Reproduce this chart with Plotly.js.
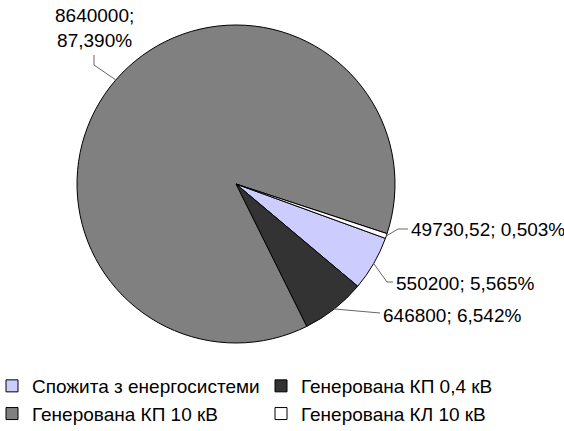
<!DOCTYPE html>
<html>
<head>
<meta charset="utf-8">
<script src="https://cdn.plot.ly/plotly-3.0.1.min.js"></script>
<style>html,body{margin:0;padding:0;background:#fff;}#chart{width:564px;height:431px;}</style>
</head>
<body>
<div id="chart"></div>
<script>
// ---- data ----
var categories = ["Спожита з енергосистеми", "Генерована КП 0,4 кВ", "Генерована КП 10 кВ", "Генерована КЛ 10 кВ"];
var values = [550200, 646800, 8640000, 49730.52];
var colors = ["#CCCCFF", "#333333", "#808080", "#FFFFFF"];

// ---- layout constants ----
var W = 564, H = 431, MB = 64;
var HP = H - MB; // plot area height (paper coords refer to it)
var cxPx = 236, cyPx = 184, rPx = 159;
var rotationDeg = 110;
var FONT = "Liberation Sans, Arial, sans-serif";
// label placement (pixel positions of label text, and elbow points of leader lines)
var labelPos = [
  {tx: 394, ty: 283, anchor: "left",   elbow: [[387, 282], [393, 282]]},
  {tx: 381, ty: 315, anchor: "left",   elbow: [[380, 313]]},
  {tx: 94,  ty: 28,  anchor: "center", elbow: [[94, 65], [94, 55]]},
  {tx: 409, ty: 229, anchor: "left",   elbow: [[398, 229], [408, 229]]}
];

function fmtNum(v) { return String(v).replace(".", ","); }
var total = values.reduce(function(a, b) { return a + b; }, 0);
var texts = values.map(function(v, i) {
  var pct = (v / total * 100).toFixed(3).replace(".", ",") + "%";
  return i === 2 ? fmtNum(v) + ";<br>" + pct : fmtNum(v) + "; " + pct;
});

function px2x(p) { return p / W; }
function py2y(p) { return 1 - p / HP; }

var annotations = [], shapes = [];
var ang = rotationDeg;
values.forEach(function(v, i) {
  var span = v / total * 360;
  var mid = (ang + span / 2) * Math.PI / 180;
  ang += span;
  var ex = cxPx + rPx * Math.sin(mid), ey = cyPx - rPx * Math.cos(mid);
  var L = labelPos[i];
  var path = "M" + px2x(ex) + "," + py2y(ey);
  L.elbow.forEach(function(p) { path += " L" + px2x(p[0]) + "," + py2y(p[1]); });
  shapes.push({type: "path", xref: "paper", yref: "paper", path: path, line: {color: "#666666", width: 1}});
  annotations.push({
    xref: "paper", yref: "paper", x: px2x(L.tx), y: py2y(L.ty),
    xanchor: L.anchor, yanchor: "middle", align: "center", showarrow: false,
    text: texts[i], font: {family: FONT, size: 19, color: "#000"}
  });
});

var trace = {
  type: "pie",
  labels: categories,
  values: values,
  sort: false,
  direction: "clockwise",
  rotation: rotationDeg,
  marker: {colors: colors, line: {color: "#000000", width: 1}},
  textinfo: "none",
  hoverinfo: "none",
  domain: {x: [(cxPx - rPx) / W, (cxPx + rPx) / W], y: [1 - (cyPx + rPx) / HP, 1 - (cyPx - rPx) / HP]}
};

var layout = {
  width: W, height: H,
  margin: {l: 0, r: 0, t: 0, b: MB, autoexpand: false},
  paper_bgcolor: "#fff",
  font: {family: FONT, size: 19, color: "#000"},
  showlegend: true,
  legend: {orientation: "h", x: -8 / W, xanchor: "left", y: 0, yanchor: "top",
           entrywidth: 224, entrywidthmode: "pixels", tracegroupgap: 0,
           font: {size: 19}, itemclick: false},
  annotations: annotations,
  shapes: shapes
};

Plotly.newPlot("chart", [trace], layout, {staticPlot: true});
</script>
</body>
</html>
